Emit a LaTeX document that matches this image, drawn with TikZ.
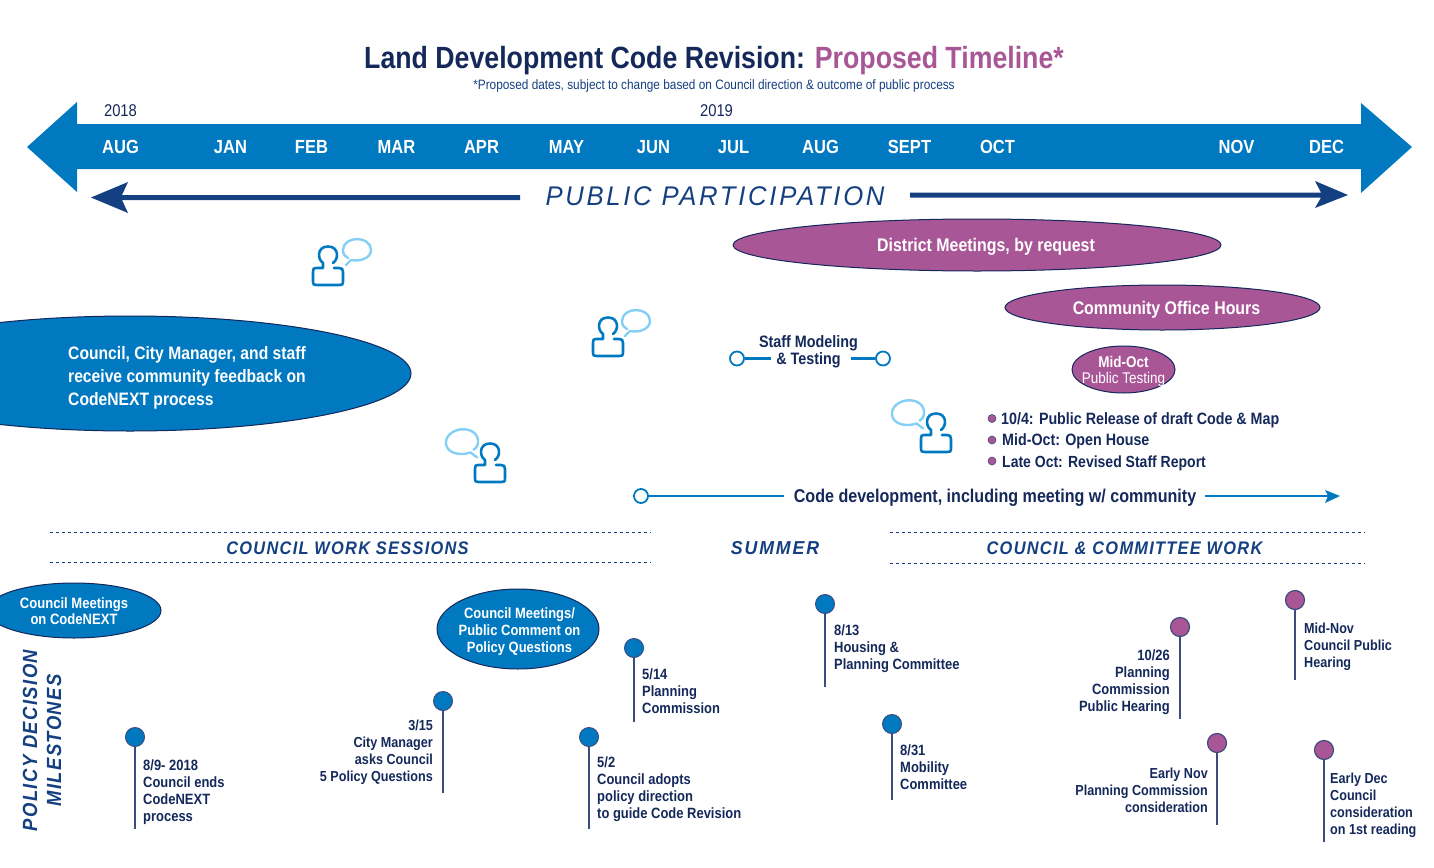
\documentclass[tikz,border=0pt]{standalone}
\usepackage{fontspec}
\usetikzlibrary{shapes.geometric}
\setmainfont[FakeStretch=0.87]{Liberation Sans}
\newfontfamily\spacedf[FakeStretch=0.9,LetterSpace=7]{Liberation Sans}
\newfontfamily\wspacedf[FakeStretch=0.95,LetterSpace=10]{Liberation Sans}
\definecolor{cblue}{HTML}{0079C1}
\definecolor{cnavy}{HTML}{14285A}
\definecolor{cdeep}{HTML}{143F80}
\definecolor{cpurple}{HTML}{A95697}
\definecolor{clight}{HTML}{85CFF5}
\definecolor{cstem}{HTML}{3D4B7D}
\newcommand{\fs}[2]{\fontsize{#1pt}{#2pt}\selectfont}
\tikzset{
  x=1pt,y=-1pt,
  oval/.style={ellipse,draw=cnavy,line width=1pt,inner sep=0},
  ovaltext/.style={text=white,align=center,inner sep=0,yshift=-2pt},
  bluefill/.style={fill=cblue},
  purplefill/.style={fill=cpurple},
  month/.style={text=white,font=\fs{19}{20}\bfseries,inner sep=0},
  year/.style={text=cnavy,font=\fs{17}{20},inner sep=0},
  section/.style={text=cdeep,font=\fs{18.2}{20}\spacedf\bfseries\itshape,inner sep=0},
  rule/.style={cdeep,line width=1pt,dash pattern=on 2.5pt off 3.5pt},
  bluepin/.style={circle,draw=cstem,line width=1pt,fill=cblue,minimum size=19pt,inner sep=0},
  purplepin/.style={circle,draw=cstem,line width=1.2pt,fill=cpurple,minimum size=19pt,inner sep=0},
  stem/.style={cstem,line width=1.5pt},
  miletext/.style={text=cnavy,font=\fs{14.9}{17}\bfseries,inner sep=0},
  mleft/.style={miletext,anchor=west,align=left},
  mright/.style={miletext,anchor=east,align=right},
  tight/.style={font=\fs{14.5}{17}\bfseries},
  ring/.style={circle,draw=cblue,line width=1.8pt,fill=white,minimum size=14pt,inner sep=0},
  bar/.style={cblue,line width=3pt},
  bodytext/.style={text=cnavy,font=\fs{16.4}{25}\bfseries,inner sep=0},
  bull/.style={circle,draw=cstem,line width=.6pt,fill=cpurple,minimum size=8pt,inner sep=0},
  person/.pic={\draw[cblue,line width=2.6pt,line cap=round,line join=round]
     (5,7) .. controls (11,3) and (11,-9.5) .. (0,-9.5) .. controls (-11,-9.5) and (-11,3) .. (-5,7)
     -- (-5,12) -- (-11,12) .. controls (-15,12) and (-15,13) .. (-15,16) -- (-15,25)
     .. controls (-15,29) and (-14,29) .. (-11,29) -- (11,29) .. controls (14,29) and (15,29) .. (15,25)
     -- (15,16) .. controls (15,13) and (14,12) .. (11,12) -- (6,12);},
  bubble/.pic={\draw[clight,line width=2.4pt,line cap=round,line join=round]
     (-11,15) -- (-6,10) .. controls (3,12) and (14,8) .. (14,0) .. controls (14,-7) and (7,-11) .. (0,-11)
     .. controls (-7,-11) and (-14,-7) .. (-14,0) .. controls (-14,4) and (-12,7) .. (-9,8);},
}
\begin{document}
\begin{tikzpicture}
\useasboundingbox (0,0) rectangle (1434,867);
\clip (0,0) rectangle (1434,867);
% title
\node[inner sep=0,font=\fs{30.7}{32}\bfseries,text=cnavy] (title) at (714,61) {Land Development Code Revision: \textcolor{cpurple}{Proposed Timeline*}};
\node[inner sep=0,font=\fs{13.6}{14},text=cdeep] (sub) at (714,86) {*Proposed dates, subject to change based on Council direction \& outcome of public process};
\node[year] (y18) at (120.5,111) {2018};
\node[year] (y19) at (716.5,111) {2019};
% main arrow
\fill[cblue] (27,147) -- (77,102) -- (77,124) -- (1361,124) -- (1361,103) -- (1412,147) -- (1361,193) -- (1361,169) -- (77,169) -- (77,192) -- cycle;
\foreach \n/\x/\t in {m1/120.5/AUG,m2/230.5/JAN,m3/311.5/FEB,m4/396.5/MAR,m5/481.5/APR,m6/566.5/MAY,m7/653.5/JUN,m8/733.5/JUL,m9/820.5/AUG,m10/909.5/SEPT,m11/997.5/OCT,m12/1236.5/NOV,m13/1326.5/DEC}
  \node[month] (\n) at (\x,147) {\t};
% public participation
\node[inner sep=0,text=cdeep,font=\fs{27}{30}\wspacedf\itshape] (pp) at (715,196.5) {PUBLIC PARTICIPATION};
\coordinate (ppl) at (520,197.5);
\coordinate (ppr) at (910,195);
\fill[cdeep] (ppl) ++(0,-2.5) -- (122,195) -- (128,182) -- (91,197.5) -- (128,213) -- (122,200) -- (520,200) -- cycle;
\fill[cdeep] (ppr) ++(0,-2.5) -- (1321,192.5) -- (1315,181) -- (1348,195) -- (1315,208) -- (1321,197.5) -- (910,197.5) -- cycle;
% ovals
\node[oval,purplefill,minimum width=488pt,minimum height=52pt,label={[ovaltext,xshift=9pt,font=\fs{18.3}{20}\bfseries]center:District Meetings, by request}] (dist) at (977,245) {};
\node[oval,purplefill,minimum width=315pt,minimum height=45pt,label={[ovaltext,xshift=4pt,font=\fs{18.3}{20}\bfseries]center:Community Office Hours}] (coh) at (1162.5,307.5) {};
\node[oval,purplefill,minimum width=103pt,minimum height=47pt,label={[ovaltext,font=\fs{15.5}{16}]center:{\textbf{Mid-Oct}\\Public Testing}}] (pt) at (1123.5,369.5) {};
\node[oval,bluefill,minimum width=562pt,minimum height=115pt] (fb) at (130,373.5) {};
\node[text=white,font=\fs{18}{23}\bfseries,align=left,anchor=west,inner sep=0] (fbt) at (68,378) {Council, City Manager, and staff\\receive community feedback on\\CodeNEXT process};
\node[oval,bluefill,minimum width=174pt,minimum height=55pt,label={[ovaltext,yshift=1pt,font=\fs{15}{16}\bfseries]center:{Council Meetings\\on CodeNEXT}}] (cm) at (74,610.5) {};
\node[oval,bluefill,minimum width=162pt,minimum height=80pt,label={[ovaltext,xshift=1.5pt,yshift=-1pt,font=\fs{14.9}{17}\bfseries]center:{Council Meetings/\\Public Comment on\\Policy Questions}}] (cq) at (518,629) {};
% icons
\pic at (328,256) {person};
\pic at (357,250) {bubble};
\pic at (608,327) {person};
\pic at (636,321) {bubble};
\pic at (490,453) {person};
\pic[xscale=-1,rotate=-8,scale=1.15] at (462,442) {bubble};
\pic at (936,423) {person};
\pic[xscale=-1,rotate=-8,scale=1.15] at (908,413) {bubble};
% staff modeling
\node[bodytext,align=center,font=\fs{16.5}{17}\bfseries] (sm) at (808.5,352) {Staff Modeling\\\& Testing};
\node[ring] (r1) at (737,358.5) {};
\node[ring] (r2) at (883,358.5) {};
\coordinate (r1e) at (771,358.5);
\coordinate (r2e) at (851,358.5);
\draw[bar] (r1) -- (r1e);
\draw[bar] (r2) -- (r2e);
% bullets
\node[bull] (b1) at (992,418.5) {};
\node[bull] (b2) at (992,440) {};
\node[bull] (b3) at (992,461) {};
\node[bodytext,anchor=west] (bt1) at (1001,420) {10/4: Public Release of draft Code \& Map};
\node[bodytext,anchor=west] (bt2) at (1002,441) {Mid-Oct: Open House};
\node[bodytext,anchor=west,font=\fs{16.1}{25}\bfseries] (bt3) at (1002,463) {Late Oct: Revised Staff Report};
% code development
\node[ring] (cd0) at (641,496) {};
\node[bodytext,font=\fs{18.5}{20}\bfseries] (cdt) at (995,497.5) {Code development, including meeting w/ community};
\coordinate (cdl) at (784,496);
\coordinate (cdr) at (1205,496);
\coordinate (cde) at (1340,496);
\draw[bar,line width=2.5pt] (cd0) -- (cdl);
\draw[bar,line width=2.5pt] (cdr) -- (1328,496);
\fill[cblue] (cde) -- (1325,490) -- (1328,496) -- (1325,503) -- cycle;
% rules
\coordinate (ra1) at (50,532);\coordinate (ra2) at (651,532);
\coordinate (rb1) at (50,562);\coordinate (rb2) at (651,562);
\coordinate (rc1) at (890,532);\coordinate (rc2) at (1365,532);
\coordinate (rd1) at (890,563);\coordinate (rd2) at (1365,563);
\draw[rule] (ra1) -- (ra2);
\draw[rule] (rb1) -- (rb2);
\draw[rule] (rc1) -- (rc2);
\draw[rule] (rd1) -- (rd2);
\node[section] (s1) at (347.5,548.5) {COUNCIL WORK SESSIONS};
\node[section,font=\fs{18.7}{20}\wspacedf\bfseries\itshape] (s2) at (775,548.5) {SUMMER};
\node[section] (s3) at (1124.5,548.5) {COUNCIL \& COMMITTEE WORK};
\node[inner sep=0,text=cdeep,rotate=90,align=center,font=\fs{20.5}{24}\spacedf\bfseries\itshape] (pdm) at (42,740.5) {POLICY DECISION\\MILESTONES};
% milestones
\newcommand{\pin}[5]{%
  \node[#1] (#2) at (#3,#4) {};
  \coordinate (#2e) at (#3,#5);
  \draw[stem] (#2) -- (#2e);}
\pin{bluepin}{p1}{135}{737}{829}
\pin{bluepin}{p2}{443}{701}{793}
\pin{bluepin}{p3}{634}{648}{722}
\pin{bluepin}{p4}{589}{737}{829}
\pin{bluepin}{p5}{825}{604}{687}
\pin{bluepin}{p6}{892}{724}{800}
\pin{purplepin}{p7}{1180}{627}{719}
\pin{purplepin}{p8}{1295}{600}{680}
\pin{purplepin}{p9}{1217}{743}{825}
\pin{purplepin}{p10}{1324}{750}{842}
\node[mleft] (t1) at (143,792) {8/9- 2018\\Council ends\\CodeNEXT\\process};
\node[mright,tight] (t2) at (433,752.5) {3/15\\City Manager\\asks Council\\5 Policy Questions};
\node[mleft] (t3) at (642,691) {5/14\\Planning\\Commission};
\node[mleft] (t4) at (597,789) {5/2\\Council adopts\\policy direction\\to guide Code Revision};
\node[mleft] (t5) at (834,648.5) {8/13\\Housing \&\\Planning Committee};
\node[mleft] (t6) at (900,767.5) {8/31\\Mobility\\Committee};
\node[mright] (t7) at (1170,682.5) {10/26\\Planning\\Commission\\Public Hearing};
\node[mleft,tight] (t8) at (1304,647) {Mid-Nov\\Council Public\\Hearing};
\node[mright,tight] (t9) at (1208,790) {Early Nov\\Planning Commission\\consideration};
\node[mleft,tight] (t10) at (1330,805.5) {Early Dec\\Council\\consideration\\on 1st reading};
\end{tikzpicture}
\end{document}
